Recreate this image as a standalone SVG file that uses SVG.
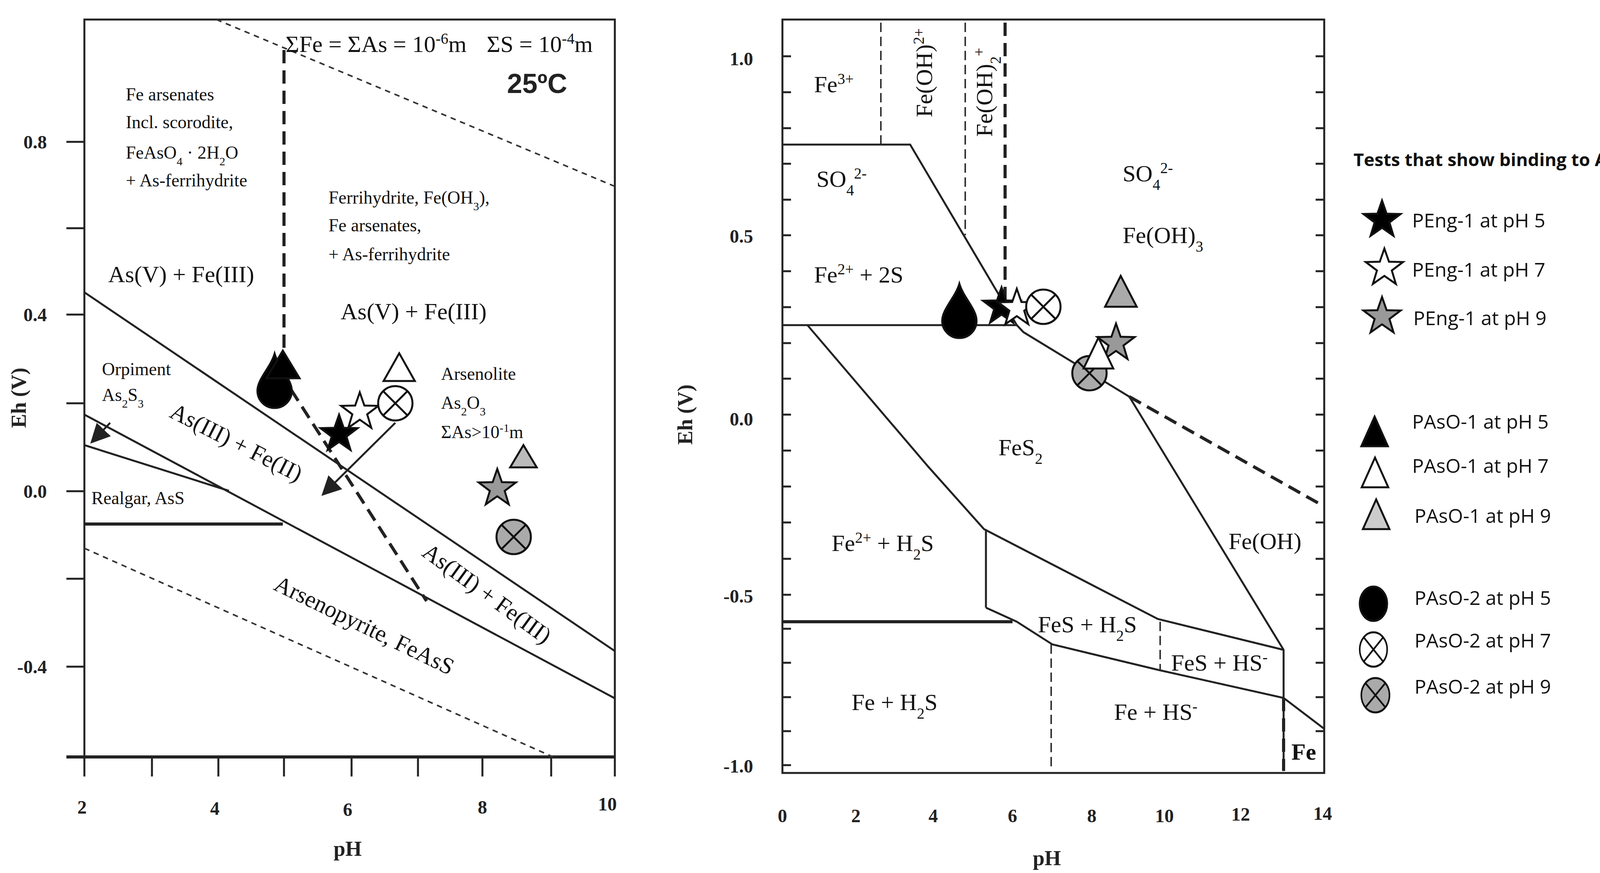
<svg xmlns="http://www.w3.org/2000/svg" xmlns:xlink="http://www.w3.org/1999/xlink" width="4266" height="2234" viewBox="0 0 4266 2234">
<style>
.fr{fill:none;stroke:#222;stroke-width:5}
.ln{fill:none;stroke:#222;stroke-width:5}
.th{fill:none;stroke:#222;stroke-width:8}
.dot{fill:none;stroke:#333;stroke-width:4;stroke-dasharray:14 12}
.dsh{fill:none;stroke:#222;stroke-width:8;stroke-dasharray:34 18}
.dsn{fill:none;stroke:#333;stroke-width:4;stroke-dasharray:24 12}
.tk{stroke:#222;stroke-width:5}
.ax{font-family:"Liberation Serif",serif;font-weight:bold;font-size:48px;fill:#222}
.lb{font-family:"Liberation Serif",serif;font-size:46px;fill:#111}
.lg{font-family:"Liberation Serif",serif;font-size:60px;fill:#111}
.leg{font-family:"Open Sans","Liberation Sans",sans-serif;font-size:50px;fill:#111}
.sub{font-size:0.65em}
.mk{stroke:#111;stroke-width:5}
</style>
<defs>
<polygon id="star" points="0,-50 11.8,-16.2 47.6,-15.5 19,6.2 29.4,40.5 0,20 -29.4,40.5 -19,6.2 -47.6,-15.5 -11.8,-16.2"/>
<g id="cx"><circle r="44"/><path d="M-31,-31L31,31M31,-31L-31,31" fill="none"/></g>
<path id="drop" d="M0,-95 C10,-60 44,-30 44,0 A44,44 0 0 1 -44,0 C-44,-30 -10,-60 0,-95Z"/>
<marker id="ar" markerWidth="10" markerHeight="10" refX="8" refY="5" orient="auto" markerUnits="strokeWidth"><path d="M0,0L10,5L0,10z" fill="#222"/></marker>
</defs>

<g id="left-plot">
<path class="fr" d="M216,1937V50H1574V1937"/>
<line class="th" x1="170" y1="1937" x2="1574" y2="1937"/>
<g class="tk">
<path d="M170,363H216M170,584H216M170,805H216M170,1032H216M170,1257H216M170,1481H216M170,1706H216"/>
<path d="M216,1937V1987M389,1937V1987M559,1937V1987M727,1937V1987M900,1937V1987M1070,1937V1987M1235,1937V1987M1411,1937V1987M1574,1937V1987"/>
</g>
<g class="ax" text-anchor="end">
<text x="120" y="380">0.8</text><text x="120" y="822">0.4</text><text x="120" y="1274">0.0</text><text x="120" y="1723">-0.4</text>
</g>
<g class="ax" text-anchor="middle">
<text x="210" y="2082">2</text><text x="550" y="2085">4</text><text x="890" y="2088">6</text><text x="1235" y="2082">8</text><text x="1555" y="2074">10</text>
<text x="890" y="2190" font-size="54">pH</text>
<text transform="translate(66,1018) rotate(-90)" font-size="54">Eh (V)</text>
</g>
</g>

<g id="left-connectors">
<line class="dot" x1="554" y1="50" x2="1574" y2="477"/>
<line class="dot" x1="216" y1="1403" x2="1416" y2="1937"/>
<line class="ln" x1="216" y1="748" x2="1574" y2="1666"/>
<line class="ln" x1="216" y1="1061" x2="1574" y2="1787"/>
<line class="ln" x1="216" y1="1139" x2="586" y2="1256"/>
<line class="th" x1="216" y1="1341" x2="724" y2="1341"/>
<line class="dsh" x1="727" y1="128" x2="727" y2="911"/>
<line class="dsh" x1="745" y1="997" x2="1092" y2="1538"/>
<line class="ln" x1="1012" y1="1082" x2="830" y2="1262" marker-end="url(#ar)" stroke-width="4"/>
<line class="ln" x1="282" y1="1082" x2="238" y2="1128" marker-end="url(#ar)" stroke-width="4"/>
</g>

<g id="left-labels">
<text class="lg" x="731" y="133">ΣFe = ΣAs = 10<tspan class="sub" baseline-shift="super">-6</tspan>m</text>
<text class="lg" x="1246" y="133">ΣS = 10<tspan class="sub" baseline-shift="super">-4</tspan>m</text>
<text x="1298" y="238" font-family="Liberation Sans,sans-serif" font-weight="bold" font-size="70" fill="#222">25ºC</text>
<text class="lb" x="322" y="257">Fe arsenates</text>
<text class="lb" x="322" y="328">Incl. scorodite,</text>
<text class="lb" x="322" y="406">FeAsO<tspan class="sub" baseline-shift="sub">4</tspan> · 2H<tspan class="sub" baseline-shift="sub">2</tspan>O</text>
<text class="lb" x="322" y="477">+ As-ferrihydrite</text>
<text class="lb" x="841" y="521">Ferrihydrite, Fe(OH<tspan class="sub" baseline-shift="sub">3</tspan>),</text>
<text class="lb" x="841" y="592">Fe arsenates,</text>
<text class="lb" x="841" y="666">+ As-ferrihydrite</text>
<text class="lg" x="277" y="722">As(V) + Fe(III)</text>
<text class="lg" x="872" y="817">As(V) + Fe(III)</text>
<text class="lb" x="261" y="960">Orpiment</text>
<text class="lb" x="261" y="1026">As<tspan class="sub" baseline-shift="sub">2</tspan>S<tspan class="sub" baseline-shift="sub">3</tspan></text>
<text class="lb" x="1129" y="972">Arsenolite</text>
<text class="lb" x="1129" y="1046">As<tspan class="sub" baseline-shift="sub">2</tspan>O<tspan class="sub" baseline-shift="sub">3</tspan></text>
<text class="lb" x="1129" y="1121">ΣAs&gt;10<tspan class="sub" baseline-shift="super">-1</tspan>m</text>
<text class="lb" x="234" y="1290">Realgar, AsS</text>
<text class="lg" text-anchor="middle" transform="translate(596,1150) rotate(27)">As(III) + Fe(II)</text>
<text class="lg" text-anchor="middle" transform="translate(1235,1535) rotate(36)">As(III) + Fe(III)</text>
<text class="lg" text-anchor="middle" font-size="66" transform="translate(924,1618) rotate(26)">Arsenopyrite, FeAsS</text>
</g>

<g id="left-markers" class="mk">
<use href="#drop" x="703" y="1000" fill="#000"/>
<polygon points="724,897 767,968 682,968" fill="#000"/>
<use href="#star" x="868" y="1111" fill="#000"/>
<use href="#star" x="921" y="1054" fill="#fff"/>
<use href="#cx" x="1012" y="1032" fill="#fff"/>
<polygon points="1022,904 1062,975 982,975" fill="#fff"/>
<use href="#star" x="1273" y="1250" fill="#999"/>
<polygon points="1340,1139 1374,1196 1306,1196" fill="#bbb"/>
<use href="#cx" x="1315" y="1374" fill="#aaa"/>
</g>

<g id="right-plot">
<rect class="fr" x="2003" y="50" width="1387" height="1928"/>
<g class="tk" stroke-width="4">
<path d="M2003,144h22M2003,236h22M2003,328h22M2003,419h22M2003,511h22M2003,602h22M2003,694h22M2003,786h22M2003,878h22M2003,969h22M2003,1061h22M2003,1153h22M2003,1245h22M2003,1337h22M2003,1430h22M2003,1522h22M2003,1609h22M2003,1696h22M2003,1784h22M2003,1871h22M2003,1958h22"/>
<path d="M3390,144h-22M3390,236h-22M3390,328h-22M3390,419h-22M3390,511h-22M3390,602h-22M3390,694h-22M3390,786h-22M3390,878h-22M3390,969h-22M3390,1061h-22M3390,1153h-22M3390,1245h-22M3390,1337h-22M3390,1430h-22M3390,1522h-22M3390,1609h-22M3390,1696h-22M3390,1784h-22M3390,1871h-22"/>
</g>
<g class="ax" text-anchor="end">
<text x="1928" y="167">1.0</text><text x="1928" y="621">0.5</text><text x="1928" y="1089">0.0</text><text x="1928" y="1542">-0.5</text><text x="1928" y="1977">-1.0</text>
</g>
<g class="ax" text-anchor="middle">
<text x="2003" y="2104">0</text><text x="2191" y="2104">2</text><text x="2389" y="2104">4</text><text x="2592" y="2104">6</text><text x="2795" y="2104">8</text><text x="2981" y="2104">10</text><text x="3176" y="2100">12</text><text x="3386" y="2098">14</text>
<text x="2680" y="2214" font-size="54">pH</text>
<text transform="translate(1772,1061) rotate(-90)" font-size="54">Eh (V)</text>
</g>
</g>

<g id="right-connectors">
<line class="dsn" x1="2255" y1="58" x2="2255" y2="370"/>
<line class="dsn" x1="2471" y1="58" x2="2471" y2="602" stroke-width="5"/>
<line class="dsh" x1="2573" y1="58" x2="2573" y2="785" stroke-width="7"/>
<path class="ln" d="M2003,370H2330L2603,832L2620,850L2891,1015L3286,1663V1973"/>
<line class="dsh" x1="2891" y1="1015" x2="3390" y2="1296" stroke-width="6" stroke-dasharray="30 14"/>
<path class="ln" d="M2003,832H2603"/>
<path class="ln" stroke-width="3" d="M2067,832L2377,1195L2519,1354L2964,1584L3286,1663"/>
<path class="ln" d="M2524,1354V1555"/>
<path class="ln" stroke-width="3" d="M2524,1555L2603,1591L2694,1649L2964,1714L3286,1786L3390,1865"/>
<path class="th" d="M2003,1591H2592"/>
<line class="dsn" x1="2691" y1="1649" x2="2691" y2="1973" stroke-width="5"/>
<line class="dsn" x1="2970" y1="1591" x2="2970" y2="1714" stroke-width="4"/>
<line class="dsh" x1="3286" y1="1786" x2="3286" y2="1973" stroke-width="7" stroke-dasharray="26 12"/>
</g>

<g id="right-labels">
<text class="lg" x="2084" y="236">Fe<tspan class="sub" baseline-shift="super">3+</tspan></text>
<text class="lg" text-anchor="middle" transform="translate(2386,186) rotate(-90)">Fe(OH)<tspan class="sub" baseline-shift="super">2+</tspan></text>
<text class="lg" text-anchor="middle" transform="translate(2540,236) rotate(-90)">Fe(OH)<tspan class="sub" baseline-shift="sub">2</tspan><tspan class="sub" baseline-shift="super">+</tspan></text>
<text class="lg" x="2090" y="478">SO<tspan class="sub" baseline-shift="sub">4</tspan><tspan class="sub" baseline-shift="super">2-</tspan></text>
<text class="lg" x="2874" y="464">SO<tspan class="sub" baseline-shift="sub">4</tspan><tspan class="sub" baseline-shift="super">2-</tspan></text>
<text class="lg" x="2874" y="622">Fe(OH)<tspan class="sub" baseline-shift="sub">3</tspan></text>
<text class="lg" x="2084" y="723">Fe<tspan class="sub" baseline-shift="super">2+</tspan> + 2S</text>
<text class="lg" x="2556" y="1165">FeS<tspan class="sub" baseline-shift="sub">2</tspan></text>
<text class="lg" x="2129" y="1410">Fe<tspan class="sub" baseline-shift="super">2+</tspan> + H<tspan class="sub" baseline-shift="sub">2</tspan>S</text>
<text class="lg" x="3145" y="1405">Fe(OH)</text>
<text class="lg" x="2657" y="1618">FeS + H<tspan class="sub" baseline-shift="sub">2</tspan>S</text>
<text class="lg" x="2998" y="1716">FeS + HS<tspan class="sub" baseline-shift="super">-</tspan></text>
<text class="lg" x="2180" y="1817">Fe + H<tspan class="sub" baseline-shift="sub">2</tspan>S</text>
<text class="lg" x="2852" y="1842">Fe + HS<tspan class="sub" baseline-shift="super">-</tspan></text>
<text class="lg" x="3306" y="1944" font-weight="bold">Fe</text>
</g>

<g id="right-markers" class="mk">
<use href="#drop" x="2456" y="821" fill="#000"/>
<use href="#star" x="2564" y="785" fill="#000"/>
<use href="#star" x="2603" y="789" fill="#fff"/>
<use href="#cx" x="2671" y="785" fill="#fff"/>
<polygon points="2869,706 2910,785 2829,785" fill="#aaa"/>
<use href="#cx" x="2789" y="955" fill="#aaa"/>
<use href="#star" x="2857" y="878" fill="#999"/>
<polygon points="2812,864 2850,943 2774,943" fill="#fff"/>
</g>

<g id="legend">
<text x="3465" y="425" font-family="Open Sans,Liberation Sans,sans-serif" font-weight="bold" font-size="44" fill="#111" textLength="740" lengthAdjust="spacingAndGlyphs">Tests that show binding to AsPy:</text>
<g class="mk">
<use href="#star" x="3538" y="563" fill="#000"/>
<use href="#star" x="3544" y="686" fill="#fff"/>
<use href="#star" x="3538" y="810" fill="#999"/>
<polygon points="3519,1066 3553,1142 3485,1142" fill="#000"/>
<polygon points="3520,1171 3554,1247 3486,1247" fill="#fff"/>
<polygon points="3523,1278 3557,1354 3489,1354" fill="#ccc"/>
<ellipse cx="3516" cy="1545" rx="35" ry="44" fill="#000"/>
<g transform="translate(3516,1662) scale(0.8,1)"><use href="#cx" fill="#fff"/></g>
<g transform="translate(3521,1779) scale(0.82,1)"><use href="#cx" fill="#aaa"/></g>
</g>
<g class="leg">
<text x="3615" y="582">PEng-1 at pH 5</text>
<text x="3615" y="708">PEng-1 at pH 7</text>
<text x="3618" y="832">PEng-1 at pH 9</text>
<text x="3615" y="1097">PAsO-1 at pH 5</text>
<text x="3615" y="1210">PAsO-1 at pH 7</text>
<text x="3621" y="1338">PAsO-1 at pH 9</text>
<text x="3621" y="1548">PAsO-2 at pH 5</text>
<text x="3621" y="1657">PAsO-2 at pH 7</text>
<text x="3621" y="1775">PAsO-2 at pH 9</text>
</g>
</g>
</svg>
